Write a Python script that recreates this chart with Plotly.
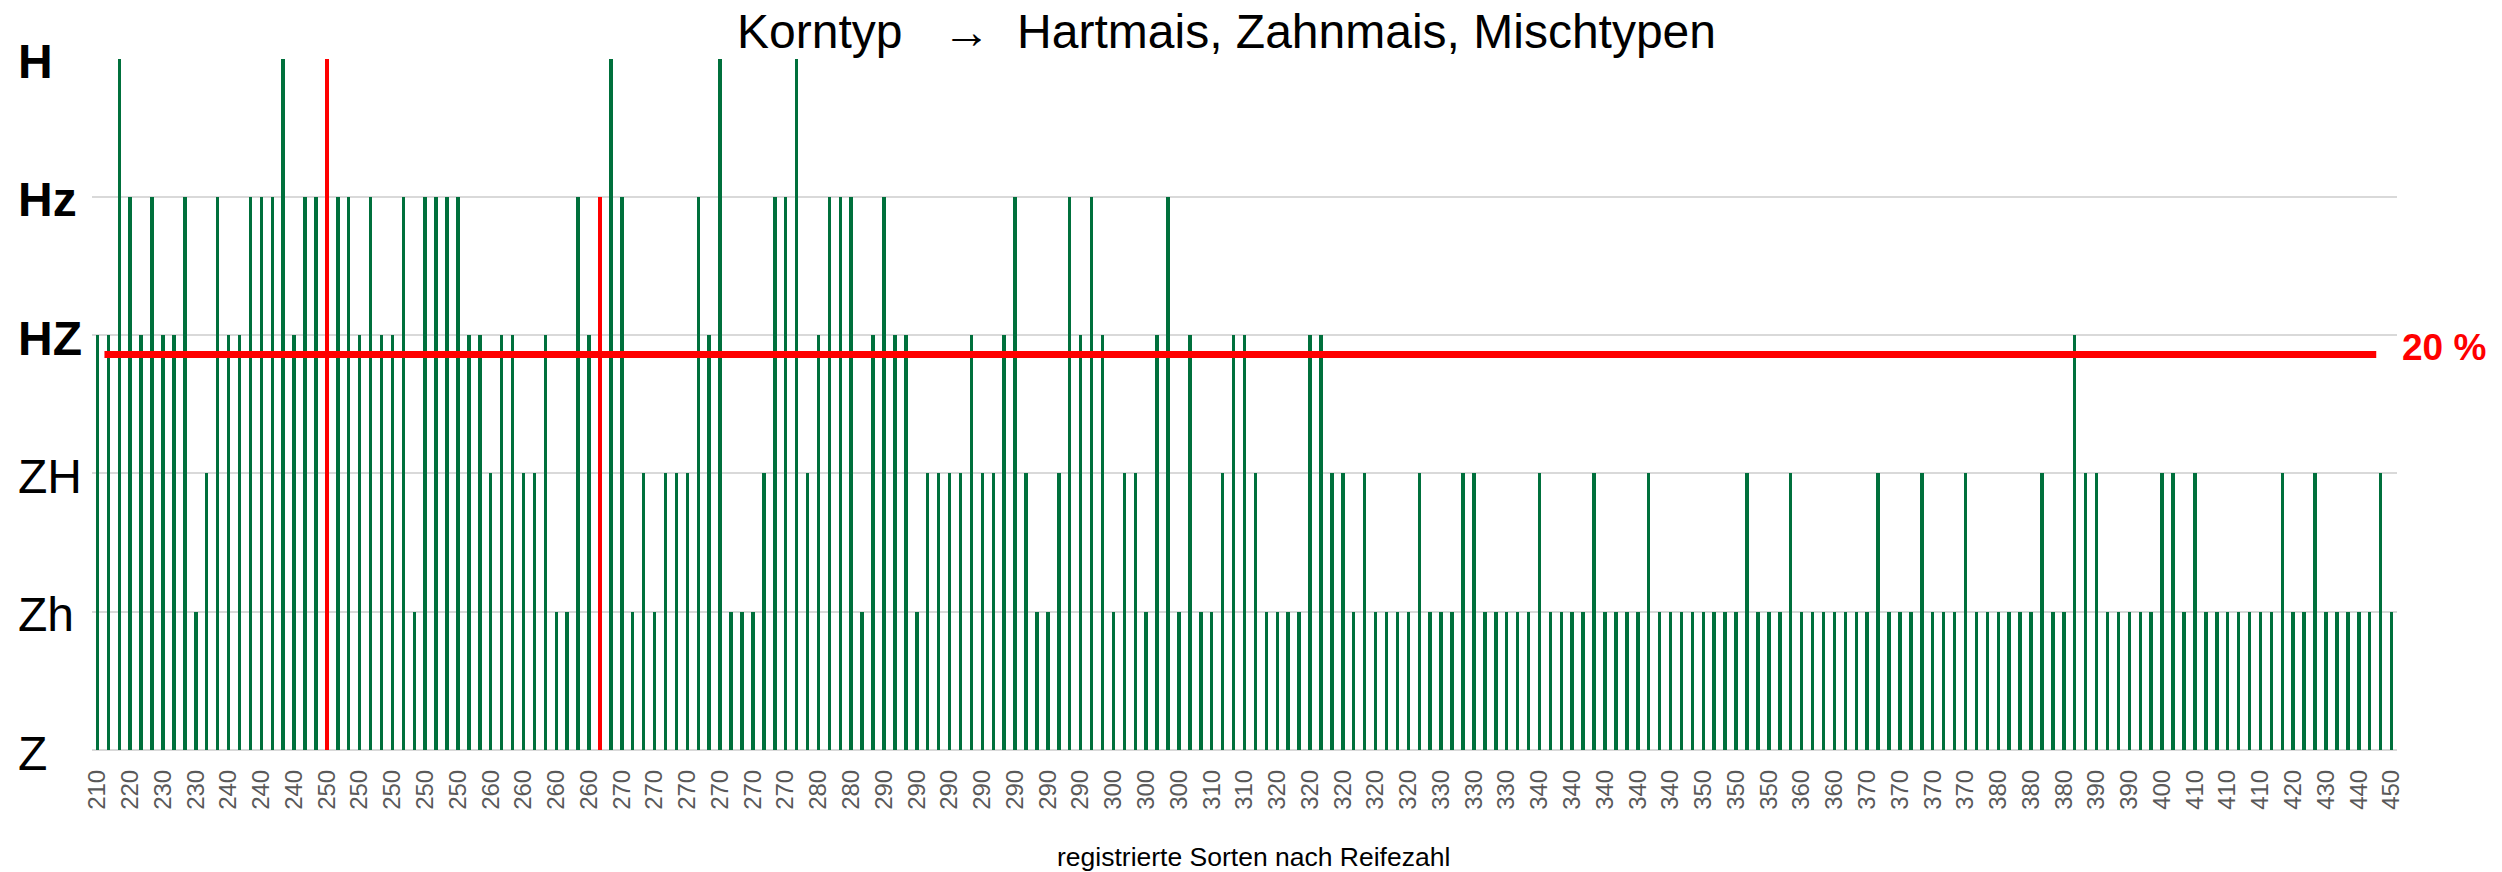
import plotly.graph_objects as go

# ---- data ----
# Korntyp per registrierter Sorte: 0=Z, 1=Zh, 2=ZH, 3=HZ, 4=Hz, 5=H
korntyp_werte = [
    3, 3, 5, 4, 3, 4, 3, 3, 4, 1,
    2, 4, 3, 3, 4, 4, 4, 5, 3, 4,
    4, 5, 4, 4, 3, 4, 3, 3, 4, 1,
    4, 4, 4, 4, 3, 3, 2, 3, 3, 2,
    2, 3, 1, 1, 4, 3, 4, 5, 4, 1,
    2, 1, 2, 2, 2, 4, 3, 5, 1, 1,
    1, 2, 4, 4, 5, 2, 3, 4, 4, 4,
    1, 3, 4, 3, 3, 1, 2, 2, 2, 2,
    3, 2, 2, 3, 4, 2, 1, 1, 2, 4,
    3, 4, 3, 1, 2, 2, 1, 3, 4, 1,
    3, 1, 1, 2, 3, 3, 2, 1, 1, 1,
    1, 3, 3, 2, 2, 1, 2, 1, 1, 1,
    1, 2, 1, 1, 1, 2, 2, 1, 1, 1,
    1, 1, 2, 1, 1, 1, 1, 2, 1, 1,
    1, 1, 2, 1, 1, 1, 1, 1, 1, 1,
    1, 2, 1, 1, 1, 2, 1, 1, 1, 1,
    1, 1, 1, 2, 1, 1, 1, 2, 1, 1,
    1, 2, 1, 1, 1, 1, 1, 1, 2, 1,
    1, 3, 2, 2, 1, 1, 1, 1, 1, 2,
    2, 1, 2, 1, 1, 1, 1, 1, 1, 1,
    2, 1, 1, 2, 1, 1, 1, 1, 1, 2, 1,
]

# highlighted (red) varieties, by position in the list
hervorgehoben = [21, 46]

# Reifezahl labels shown under every third bar
reifezahl_labels = [
    "210", "220", "230", "230", "240", "240", "240",
    "250", "250", "250", "250", "250",
    "260", "260", "260", "260",
    "270", "270", "270", "270", "270", "270",
    "280", "280",
    "290", "290", "290", "290", "290", "290", "290",
    "300", "300", "300",
    "310", "310",
    "320", "320", "320", "320", "320",
    "330", "330", "330",
    "340", "340", "340", "340", "340",
    "350", "350", "350",
    "360", "360",
    "370", "370", "370", "370",
    "380", "380", "380",
    "390", "390",
    "400",
    "410", "410", "410",
    "420", "430", "440", "450",
]
label_step = 3

korntyp_namen = ["Z", "Zh", "ZH", "HZ", "Hz", "H"]
korntyp_fett = [False, False, False, True, True, True]

schwelle_wert = 2.86
schwelle_text = "20 %"

titel_links = "Korntyp"
titel_rechts = "Hartmais, Zahnmais, Mischtypen"
x_titel = "registrierte Sorten nach Reifezahl"

# ---- figure ----
W, H = 2502, 872
ML, MR, MT, MB = 91.5, 105.4, 57.5, 121.7
FONT = "Liberation Sans, Arial, sans-serif"
GREEN = "#00703C"
RED = "#FF0000"

n = len(korntyp_werte)
xs = list(range(n))

fig = go.Figure()
fig.add_trace(go.Bar(
    x=xs, y=korntyp_werte, width=0.32,
    marker=dict(color=GREEN, line=dict(width=0)),
    hoverinfo="skip", showlegend=False,
))
fig.add_trace(go.Bar(
    x=[xs[i] for i in hervorgehoben],
    y=[korntyp_werte[i] for i in hervorgehoben],
    width=0.38,
    marker=dict(color=RED, line=dict(width=0)),
    hoverinfo="skip", showlegend=False,
))
# threshold line
fig.add_trace(go.Scatter(
    x=[0.64, n - 2.4], y=[schwelle_wert, schwelle_wert],
    mode="lines", line=dict(color=RED, width=7),
    hoverinfo="skip", showlegend=False,
))

tickvals = xs[::label_step]
fig.update_xaxes(
    range=[-0.5, n - 0.5],
    tickmode="array", tickvals=tickvals, ticktext=reifezahl_labels,
    tickangle=-90, tickfont=dict(family=FONT, size=24, color="#595959"),
    showgrid=False, zeroline=False, showline=False, ticks="",
    ticklabelstandoff=14,
)
fig.update_yaxes(
    range=[0, 5.004], tickmode="array", tickvals=list(range(6)),
    showticklabels=False, showgrid=True, gridcolor="#D9D9D9", gridwidth=2,
    zeroline=True, zerolinecolor="#D9D9D9", zerolinewidth=2,
    showline=False, ticks="",
)

plot_w = W - ML - MR
plot_h = H - MT - MB


def px_x(px):
    return (px - ML) / plot_w


def px_y(py):
    return (H - MB - py) / plot_h


annotations = []
for v, (name, bold) in enumerate(zip(korntyp_namen, korntyp_fett)):
    annotations.append(dict(
        text=f"<b>{name}</b>" if bold else name,
        xref="paper", x=px_x(15.6), xanchor="left",
        yref="y", y=v, yanchor="middle", yshift=-3,
        showarrow=False, font=dict(family=FONT, size=48, color="black"),
    ))
annotations.append(dict(
    text=f"<b>{schwelle_text}</b>", xref="paper", x=px_x(2400), xanchor="left",
    yref="paper", y=px_y(347.6), yanchor="middle", showarrow=False,
    font=dict(family=FONT, size=37, color=RED),
))
titel = f"{titel_links}&nbsp;&nbsp;&nbsp;<b>\u2192</b>&nbsp;&nbsp;{titel_rechts}"
annotations.append(dict(
    text=titel, xref="paper", x=px_x(1226), xanchor="center",
    yref="paper", y=px_y(31), yanchor="middle",
    showarrow=False, font=dict(family=FONT, size=48, color="black"),
))
annotations.append(dict(
    text=x_titel, xref="paper", x=px_x(1253), xanchor="center",
    yref="paper", y=px_y(857), yanchor="middle",
    showarrow=False, font=dict(family=FONT, size=26.5, color="black"),
))

fig.update_layout(
    width=W, height=H,
    margin=dict(l=ML, r=MR, t=MT, b=MB, pad=0),
    paper_bgcolor="white", plot_bgcolor="white",
    barmode="overlay", bargap=0,
    annotations=annotations,
    font=dict(family=FONT),
)

fig.write_html(
    "out.html",
    config={"displayModeBar": False},
    post_script="document.body.style.margin='0';document.body.style.overflow='hidden';",
)
